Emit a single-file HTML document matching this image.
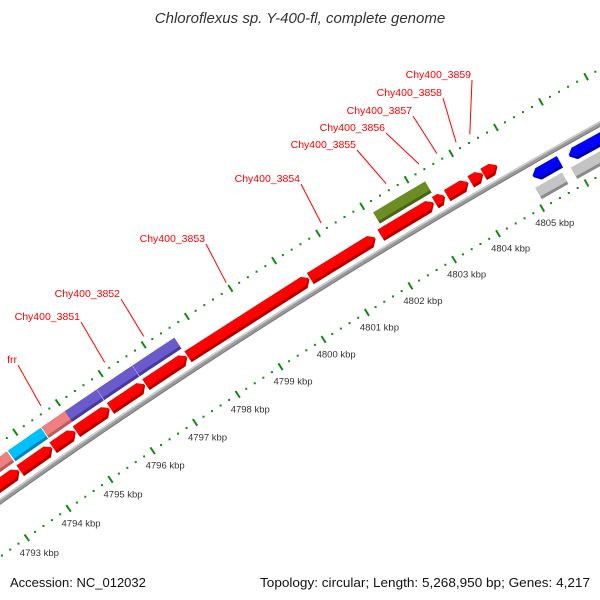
<!DOCTYPE html>
<html>
<head>
<meta charset="utf-8">
<style>
  html,body{margin:0;padding:0;background:#fff;overflow:hidden;}
  svg{display:block;font-family:"Liberation Sans",sans-serif;}
</style>
</head>
<body>
<svg id="map" width="600" height="600" viewBox="0 0 600 600" xmlns="http://www.w3.org/2000/svg">
  <rect x="0" y="0" width="600" height="600" fill="#fff"/>
  <g id="rings"></g>
  <g id="backbone"></g>
  <g id="features"></g>
  <g id="labels"></g>
  <text x="300" y="23" text-anchor="middle" font-size="15" font-style="italic" fill="#333">Chloroflexus sp. Y-400-fl, complete genome</text>
  <text x="10" y="587" font-size="13" fill="#111">Accession: NC_012032</text>
  <text x="260" y="587" font-size="13" fill="#111" textLength="330" lengthAdjust="spacingAndGlyphs">Topology: circular; Length: 5,268,950 bp; Genes: 4,217</text>
</svg>
<script>
// ---- data (kbp positions) ----
const fwdStarts = [4792.3, 4793.65, 4794.43, 4794.98, 4795.78, 4796.61, 4797.59, 4800.41, 4802.02, 4803.25, 4803.52, 4804.05, 4804.34];
const fwdEnds   = [4793.63, 4794.41, 4794.96, 4795.76, 4796.59, 4797.57, 4800.39, 4801.90, 4803.22, 4803.47, 4804.00, 4804.33, 4804.65];
const cogStarts = [4792.3, 4793.68, 4794.47, 4795.02, 4795.77, 4796.60, 4802.12];
const cogEnds   = [4793.65, 4794.45, 4795.02, 4795.76, 4796.59, 4797.57, 4803.29];
const cogColors = ["#f08080", "#00bfff", "#f08080", "#6a5acd", "#6a5acd", "#6a5acd", "#6b8e23"];
const revStarts = [4805.15, 4805.96];
const revEnds   = [4805.75, 4808.5];
const revGrayStarts = [4805.08, 4805.88];
const revGrayEnds   = [4805.68, 4808.5];
const labelNames = ["frr","Chy400_3851","Chy400_3852","Chy400_3853","Chy400_3854","Chy400_3855","Chy400_3856","Chy400_3857","Chy400_3858","Chy400_3859"];
const labelGene  = [2, 4, 5, 6, 7, 8, 9, 10, 11, 12];
const labelAnchorX = [18, 81, 121, 206, 301, 357, 386, 413, 443, 472];
const labelAnchorY = [365, 322, 299, 244, 184, 150, 133, 116, 98, 80];
const kbpTicks = [4793,4794,4795,4796,4797,4798,4799,4800,4801,4802,4803,4804,4805];

// ---- geometry ----
const CX = 3675, CY = 5674, R0 = 6345;
const TH0 = Math.atan2(538 - 5674, 27 - 3675);
const K = 51 / 6300;
function pt(p, d){ const th = TH0 + (p - 4793) * K; const r = R0 + d; return [CX + r*Math.cos(th), CY + r*Math.sin(th)]; }
const NS = "http://www.w3.org/2000/svg";
function mk(tag, attrs, parent){ const e = document.createElementNS(NS, tag); for (const k in attrs) e.setAttribute(k, attrs[k]); parent.appendChild(e); return e; }
function pts(arr){ return arr.map(q => q[0].toFixed(2)+","+q[1].toFixed(2)).join(" "); }

// rings
const rings = document.getElementById('rings');
const ringD = [48, -45];
ringD.forEach((rd, ri) => {
  for (let i = 4789*5; i <= 4810*5; i++) {
    const p = i/5;
    if (i % 5 === 0) {
      const a = pt(p, rd-4), b = pt(p, rd+4);
      const t = mk('line', {x1:a[0], y1:a[1], x2:b[0], y2:b[1], stroke:"#128a12", 'stroke-width':2}, rings);
      
      
    } else {
      const c = pt(p, rd);
      const dEl = mk('rect', {x:c[0]-1, y:c[1]-1, width:2, height:2, fill:"#128a12"}, rings);
      
      
    }
  }
});
kbpTicks.forEach(p => {
  const c = pt(p, -45);
  const t = mk('text', {x:(c[0]-7).toFixed(1), y:(c[1]+18).toFixed(1), 'font-size':9.5, fill:"#333"}, rings);
  t.textContent = p + " kbp";
  
  
});

// backbone
const bb = document.getElementById('backbone');
function arc(d){ const a=[]; for (let p=4790; p<=4810; p+=0.1) a.push(pt(p,d)); return a; }
const b1 = mk('polyline', {points:pts(arc(0)), fill:"none", stroke:"#9a9a9a", 'stroke-width':5}, bb);


const b2 = mk('polyline', {points:pts(arc(1.6)), fill:"none", stroke:"#cfcfcf", 'stroke-width':1.4}, bb);


const b3 = mk('polyline', {points:pts(arc(-2.2)), fill:"none", stroke:"#777", 'stroke-width':1}, bb);



// features
const fg = document.getElementById('features');
function shape(p0, p1, d0, d1, dir){
  const head = Math.min(0.12, (p1-p0)*0.45);
  const dm = (d0+d1)/2;
  const a = [];
  if (dir === 1) { a.push(pt(p0,d0), pt(p1-head,d0), pt(p1,dm), pt(p1-head,d1), pt(p0,d1)); }
  else if (dir === -1) { a.push(pt(p1,d0), pt(p0+head,d0), pt(p0,dm), pt(p0+head,d1), pt(p1,d1)); }
  else { for (let p=p0; p<p1; p+=0.2) a.push(pt(p,d0)); a.push(pt(p1,d0)); a.push(pt(p1,d1)); for (let p=p1; p>p0; p-=0.2) a.push(pt(p,d1)); a.push(pt(p0,d1)); }
  return pts(a);
}
function feature(p0, p1, d0, d1, dir, col, dark, name){
  const g = mk('g', {}, fg);
  
  
  mk('polygon', {points:shape(p0,p1,d0,d1,dir), fill:dark}, g);
  mk('polygon', {points:shape(p0,p1,d0+3,d1,dir), fill:col}, g);
}
for (let i=0;i<fwdStarts.length;i++) feature(fwdStarts[i], fwdEnds[i], 7, 20, 1, "#ff0000", "#b30000", "forward-gene");
for (let i=0;i<cogStarts.length;i++) {
  const dk = cogColors[i]==="#6b8e23" ? "#4a6318" : cogColors[i]==="#6a5acd" ? "#48399a" : cogColors[i]==="#00bfff" ? "#0086b3" : "#b85c5c";
  feature(cogStarts[i], cogEnds[i], 24, 37, 0, cogColors[i], dk, "cog-feature");
}
for (let i=0;i<revStarts.length;i++) feature(revStarts[i], revEnds[i], -20, -7, -1, "#0000ff", "#0000a0", "reverse-gene");
for (let i=0;i<revGrayStarts.length;i++) feature(revGrayStarts[i], revGrayEnds[i], -37, -24, 0, "#c4c4c4", "#8a8a8a", "reverse-feature");

// labels
const lg = document.getElementById('labels');
labelNames.forEach((n, i) => {
  const gi = labelGene[i];
  const end = pt((fwdStarts[gi]+fwdEnds[gi])/2, 55);
  const l = mk('line', {x1:labelAnchorX[i], y1:labelAnchorY[i], x2:end[0].toFixed(1), y2:end[1].toFixed(1), stroke:"#ff0000", 'stroke-width':1}, lg);
  
  
  const t = mk('text', {x:labelAnchorX[i]-1, y:labelAnchorY[i]-2, 'text-anchor':'end', 'font-size':10.5, fill:"#ff0000"}, lg);
  t.textContent = n;
  
  
});
</script>
</body>
</html>
